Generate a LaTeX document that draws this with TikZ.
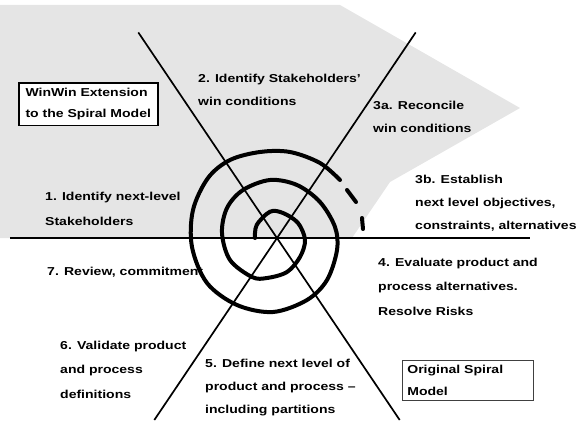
\documentclass[tikz,border=0pt]{standalone}
\usepackage{fontspec}
\newfontfamily\labfont[Ligatures=TeX,FakeStretch=1.22]{Liberation Sans}
\tikzset{
 lab/.style={font=\labfont\bfseries\fontsize{11.5}{#1}\selectfont,
   anchor=base west, inner sep=0pt, align=left},
 lab/.default=23,
 axis/.style={line width=1.7pt},
 spiral/.style={line width=4pt, line cap=round, line join=round},
 stipple/.style={fill=black!10},
 winbox/.style={draw, line width=1.5pt, fill=white, anchor=north west,
   minimum width=139pt, align=left, inner xsep=0pt, inner ysep=5.5pt,
   font=\labfont\bfseries\fontsize{11.5}{21}\selectfont},
 oldbox/.style={draw=black!75, line width=.7pt, anchor=north west,
   text width=121pt, align=left, inner xsep=5pt, inner ysep=4.8pt,
   font=\labfont\bfseries\fontsize{11.5}{22}\selectfont}
}

\begin{document}
\begin{tikzpicture}[x=1pt,y=-1pt]
\useasboundingbox (0,0) rectangle (585,420);

% grey upper half (WinWin part)
\fill[stipple] (0,5) -- (340,5) -- (520,108) -- (390,182) -- (352,238) -- (0,238) -- cycle;

\path (277,238) coordinate[name=o];
\path (10,238) coordinate[name=w];
\path (530,238) coordinate[name=e];
\path (138.3,32.4) coordinate[name=ul];
\path (415.7,32.4) coordinate[name=ur];
\path (154.3,420) coordinate[name=ll];
\path (399.7,420) coordinate[name=lr];

\draw[axis] (w) -- (e);
\draw[axis] (ul) -- (lr);
\draw[axis] (ur) -- (ll);

% the spiral, drawn by hand from the inside out
\draw[spiral] plot[smooth,tension=.55] coordinates {
 (255,238) (256.7,225) (270,211.7) (283,213) (298,223) (305,240) (300,257)
 (287,272) (267,278) (252,277) (230,260) (222,233) (227,208) (243,190)
 (270,180) (297,185) (320,202) (335,227) (337,250) (327,280) (307,300)
 (273,312) (237,305) (207,283) (192,247) (193,210) (208,178) (230,160)
 (260,152) (290,152) (320,163) (340,180)};
\draw[spiral] (347,190) -- (356,202);
\draw[spiral] (362,218) -- (363,229);

\path (18,82) node[name=winwin,winbox] {WinWin Extension\\to the Spiral Model};
\path (402,360) node[name=orig,oldbox] {Original Spiral\\Model};

% labels sit on the baseline of their last line
\path (45,225) node[name=s1,lab=25] {1. Identify next-level\\Stakeholders};
\path (198,105) node[name=s2,lab] {2. Identify Stakeholders'\\win conditions};
\path (373,132) node[name=s3a,lab] {3a. Reconcile\\win conditions};
\path (415,229) node[name=s3b,lab] {3b. Establish\\next level objectives,\\constraints, alternatives};
\path (378,315) node[name=s4,lab=24.5] {4. Evaluate product and\\process alternatives.\\Resolve Risks};
\path (205,413) node[name=s5,lab] {5. Define next level of\\product and process --\\including partitions};
\path (60,398) node[name=s6,lab=24.5] {6. Validate product\\and process\\definitions};
\path (47,275) node[name=s7,lab] {7. Review, commitment};
\end{tikzpicture}
\end{document}
